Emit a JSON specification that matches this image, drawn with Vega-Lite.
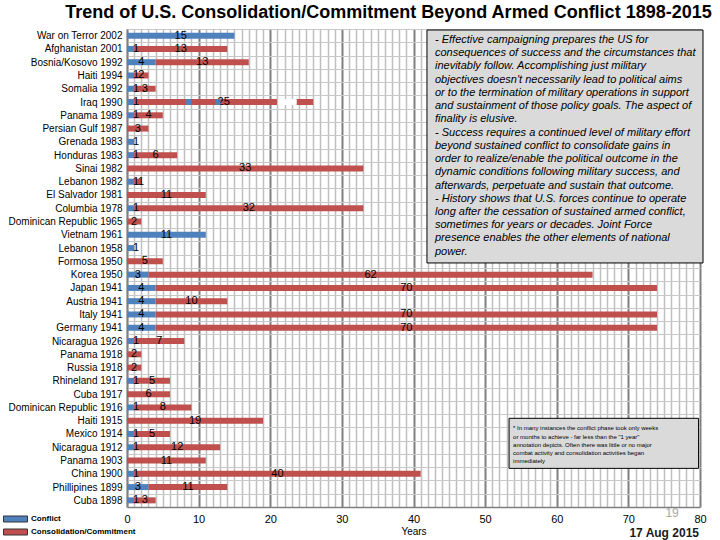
{
  "$schema": "https://vega.github.io/schema/vega-lite/v6.json",
  "autosize": {"type": "none"},
  "padding": {"left": 127, "top": 29, "right": 20, "bottom": 33},
  "width": 573,
  "height": 478,
  "background": "white",
  "config": {"view": {"stroke": null}, "font": "Liberation Sans"},
  "title": {
    "text": "Trend of U.S. Consolidation/Commitment Beyond Armed Conflict 1898-2015",
    "font": "Liberation Sans",
    "fontSize": 18,
    "fontWeight": "bold",
    "color": "#000000",
    "anchor": "middle",
    "frame": "group",
    "dx": -25,
    "offset": 2
  },
  "datasets": {
    "durations": [
      {"event": "War on Terror 2002", "kind": "Conflict", "years": 15},
      {"event": "Afghanistan 2001", "kind": "Conflict", "years": 1},
      {"event": "Afghanistan 2001", "kind": "Consolidation/Commitment", "years": 13},
      {"event": "Bosnia/Kosovo 1992", "kind": "Conflict", "years": 4},
      {"event": "Bosnia/Kosovo 1992", "kind": "Consolidation/Commitment", "years": 13},
      {"event": "Haiti 1994", "kind": "Conflict", "years": 1},
      {"event": "Haiti 1994", "kind": "Consolidation/Commitment", "years": 2},
      {"event": "Somalia 1992", "kind": "Conflict", "years": 1},
      {"event": "Somalia 1992", "kind": "Consolidation/Commitment", "years": 3},
      {"event": "Iraq 1990", "kind": "Conflict", "years": 1},
      {"event": "Iraq 1990", "kind": "Consolidation/Commitment", "years": 25},
      {"event": "Panama 1989", "kind": "Conflict", "years": 1},
      {"event": "Panama 1989", "kind": "Consolidation/Commitment", "years": 4},
      {"event": "Persian Gulf 1987", "kind": "Consolidation/Commitment", "years": 3},
      {"event": "Grenada 1983", "kind": "Conflict", "years": 1},
      {"event": "Honduras 1983", "kind": "Conflict", "years": 1},
      {"event": "Honduras 1983", "kind": "Consolidation/Commitment", "years": 6},
      {"event": "Sinai 1982", "kind": "Consolidation/Commitment", "years": 33},
      {"event": "Lebanon 1982", "kind": "Conflict", "years": 1},
      {"event": "Lebanon 1982", "kind": "Consolidation/Commitment", "years": 1},
      {"event": "El Salvador 1981", "kind": "Consolidation/Commitment", "years": 11},
      {"event": "Columbia 1978", "kind": "Conflict", "years": 1},
      {"event": "Columbia 1978", "kind": "Consolidation/Commitment", "years": 32},
      {"event": "Dominican Republic 1965", "kind": "Consolidation/Commitment", "years": 2},
      {"event": "Vietnam 1961", "kind": "Conflict", "years": 11},
      {"event": "Lebanon 1958", "kind": "Conflict", "years": 1},
      {"event": "Formosa 1950", "kind": "Consolidation/Commitment", "years": 5},
      {"event": "Korea 1950", "kind": "Conflict", "years": 3},
      {"event": "Korea 1950", "kind": "Consolidation/Commitment", "years": 62},
      {"event": "Japan 1941", "kind": "Conflict", "years": 4},
      {"event": "Japan 1941", "kind": "Consolidation/Commitment", "years": 70},
      {"event": "Austria 1941", "kind": "Conflict", "years": 4},
      {"event": "Austria 1941", "kind": "Consolidation/Commitment", "years": 10},
      {"event": "Italy 1941", "kind": "Conflict", "years": 4},
      {"event": "Italy 1941", "kind": "Consolidation/Commitment", "years": 70},
      {"event": "Germany 1941", "kind": "Conflict", "years": 4},
      {"event": "Germany 1941", "kind": "Consolidation/Commitment", "years": 70},
      {"event": "Nicaragua 1926", "kind": "Conflict", "years": 1},
      {"event": "Nicaragua 1926", "kind": "Consolidation/Commitment", "years": 7},
      {"event": "Panama 1918", "kind": "Consolidation/Commitment", "years": 2},
      {"event": "Russia 1918", "kind": "Consolidation/Commitment", "years": 2},
      {"event": "Rhineland 1917", "kind": "Conflict", "years": 1},
      {"event": "Rhineland 1917", "kind": "Consolidation/Commitment", "years": 5},
      {"event": "Cuba 1917", "kind": "Consolidation/Commitment", "years": 6},
      {"event": "Dominican Republic 1916", "kind": "Conflict", "years": 1},
      {"event": "Dominican Republic 1916", "kind": "Consolidation/Commitment", "years": 8},
      {"event": "Haiti 1915", "kind": "Consolidation/Commitment", "years": 19},
      {"event": "Mexico 1914", "kind": "Conflict", "years": 1},
      {"event": "Mexico 1914", "kind": "Consolidation/Commitment", "years": 5},
      {"event": "Nicaragua 1912", "kind": "Conflict", "years": 1},
      {"event": "Nicaragua 1912", "kind": "Consolidation/Commitment", "years": 12},
      {"event": "Panama 1903", "kind": "Consolidation/Commitment", "years": 11},
      {"event": "China 1900", "kind": "Conflict", "years": 1},
      {"event": "China 1900", "kind": "Consolidation/Commitment", "years": 40},
      {"event": "Phillipines 1899", "kind": "Conflict", "years": 3},
      {"event": "Phillipines 1899", "kind": "Consolidation/Commitment", "years": 11},
      {"event": "Cuba 1898", "kind": "Conflict", "years": 1},
      {"event": "Cuba 1898", "kind": "Consolidation/Commitment", "years": 3}
    ],
    "iraq_phases": [
      {"event": "Iraq 1990", "kind": "Conflict", "start": 8.25, "end": 9},
      {"event": "Iraq 1990", "kind": "Conflict", "start": 12.4, "end": 13.05},
      {"event": "Iraq 1990", "kind": "Gap", "start": 21, "end": 23.7}
    ]
  },
  "layer": [
    {
      "encoding": {
        "y": {
          "field": "event",
          "type": "nominal",
          "title": null,
          "sort": [
            "War on Terror 2002", "Afghanistan 2001", "Bosnia/Kosovo 1992", "Haiti 1994",
            "Somalia 1992", "Iraq 1990", "Panama 1989", "Persian Gulf 1987", "Grenada 1983",
            "Honduras 1983", "Sinai 1982", "Lebanon 1982", "El Salvador 1981", "Columbia 1978",
            "Dominican Republic 1965", "Vietnam 1961", "Lebanon 1958", "Formosa 1950",
            "Korea 1950", "Japan 1941", "Austria 1941", "Italy 1941", "Germany 1941",
            "Nicaragua 1926", "Panama 1918", "Russia 1918", "Rhineland 1917", "Cuba 1917",
            "Dominican Republic 1916", "Haiti 1915", "Mexico 1914", "Nicaragua 1912",
            "Panama 1903", "China 1900", "Phillipines 1899", "Cuba 1898"
          ],
          "scale": {"paddingInner": 0, "paddingOuter": 0},
          "axis": {
            "ticks": false,
            "grid": true,
            "tickBand": "extent",
            "gridColor": "#C8C8C8",
            "gridWidth": 1,
            "domainColor": "#808080",
            "domainWidth": 1.5,
            "labelFont": "Liberation Sans",
            "labelFontSize": 10,
            "labelColor": "#000000",
            "labelPadding": 5
          }
        }
      },
      "layer": [
        {
          "data": {"name": "durations"},
          "transform": [
            {"stack": "years", "groupby": ["event"], "sort": [{"field": "kind", "order": "ascending"}], "as": ["x0", "x1"]}
          ],
          "mark": {"type": "bar", "size": 6},
          "encoding": {
            "x": {
              "field": "x0",
              "type": "quantitative",
              "title": "Years",
              "scale": {"domain": [0, 80], "nice": false},
              "axis": {
                "tickCount": 80,
                "ticks": false,
                "grid": true,
                "gridColor": {"condition": {"test": "datum.value % 10 === 0", "value": "#808080"}, "value": "#BFBFBF"},
                "gridWidth": {"condition": {"test": "datum.value % 10 === 0", "value": 2}, "value": 1.5},
                "labelExpr": "datum.value % 10 === 0 ? datum.label : ''",
                "labelOverlap": false,
                "labelFlush": false,
                "labelFont": "Liberation Sans",
                "labelFontSize": 11,
                "labelColor": "#000000",
                "labelPadding": 6,
                "domainColor": "#808080",
                "domainWidth": 1.5,
                "titleFont": "Liberation Sans",
                "titleFontSize": 10,
                "titleFontWeight": "normal",
                "titleColor": "#000000",
                "titlePadding": 2
              }
            },
            "x2": {"field": "x1"},
            "color": {
              "field": "kind",
              "type": "nominal",
              "scale": {
                "domain": ["Conflict", "Consolidation/Commitment", "Gap"],
                "range": ["#4F81BD", "#C0504D", "#FFFFFF"]
              },
              "legend": {
                "values": ["Conflict", "Consolidation/Commitment"],
                "title": null,
                "orient": "none",
                "legendX": -124,
                "legendY": 484,
                "padding": 0,
                "symbolType": "M-1,-0.25H1V0.25H-1Z",
                "symbolSize": 576,
                "symbolStrokeColor": "#333333",
                "symbolStrokeWidth": 1,
                "clipHeight": 12,
                "rowPadding": 1,
                "labelFont": "Liberation Sans",
                "labelFontSize": 8,
                "labelFontWeight": "bold",
                "labelColor": "#000000",
                "labelOffset": 3
              }
            }
          }
        },
        {
          "data": {"name": "durations"},
          "transform": [
            {"stack": "years", "groupby": ["event"], "sort": [{"field": "kind", "order": "ascending"}], "as": ["x0", "x1"]},
            {"calculate": "datum.kind == 'Conflict' ? max((datum.x0 + datum.x1) / 2, 1.25) : max((datum.x0 + datum.x1) / 2, datum.x0 + 0.95)", "as": "lx"}
          ],
          "mark": {"type": "text", "font": "Liberation Sans", "fontSize": 11, "color": "#000000", "align": "center", "baseline": "middle"},
          "encoding": {
            "x": {"field": "lx", "type": "quantitative", "title": "Years", "scale": {"domain": [0, 80], "nice": false}},
            "text": {"field": "years", "type": "quantitative", "format": "d"}
          }
        },
        {
          "data": {"name": "iraq_phases"},
          "mark": {"type": "bar", "size": 6},
          "encoding": {
            "x": {"field": "start", "type": "quantitative", "title": "Years", "scale": {"domain": [0, 80], "nice": false}},
            "x2": {"field": "end"},
            "color": {"field": "kind", "type": "nominal"}
          }
        }
      ]
    },
    {
      "data": {"values": [{}]},
      "layer": [
        {
          "mark": {"type": "rect", "fill": "#DADADA", "stroke": "#000000", "strokeWidth": 1},
          "encoding": {
            "x": {"datum": 41.88, "type": "quantitative", "scale": {"domain": [0, 80], "nice": false}},
            "x2": {"datum": 80.42},
            "y": {"datum": 0.075, "type": "quantitative", "scale": {"domain": [0, 36], "reverse": true, "nice": false, "zero": false}, "axis": null},
            "y2": {"datum": 17.62}
          }
        },
        {
          "mark": {
            "type": "text",
            "font": "Liberation Sans",
            "fontSize": 11,
            "fontStyle": "italic",
            "color": "#000000",
            "align": "left",
            "baseline": "middle",
            "lineHeight": 13.23,
            "text": [
              "-  Effective campaigning prepares the US for",
              "consequences of success and the circumstances that",
              "inevitably follow. Accomplishing just military",
              "objectives doesn't necessarily  lead to political aims",
              "or to the termination of military operations in support",
              "and sustainment of those policy goals. The aspect of",
              "finality is elusive.",
              "-  Success requires a continued level of military effort",
              "beyond sustained conflict  to consolidate gains in",
              "order to realize/enable the political outcome in the",
              "dynamic conditions following military success, and",
              "afterwards, perpetuate and sustain that outcome.",
              "-  History shows that U.S. forces continue to operate",
              "long after the cessation of sustained armed conflict,",
              "sometimes for years or decades.  Joint Force",
              "presence enables the other elements of national",
              "power."
            ]
          },
          "encoding": {
            "x": {"datum": 43.0, "type": "quantitative", "scale": {"domain": [0, 80], "nice": false}},
            "y": {"datum": 0.83, "type": "quantitative", "scale": {"domain": [0, 36], "reverse": true, "nice": false, "zero": false}, "axis": null}
          }
        },
        {
          "mark": {"type": "rect", "fill": "#DADADA", "stroke": "#000000", "strokeWidth": 1},
          "encoding": {
            "x": {"datum": 53.34, "type": "quantitative", "scale": {"domain": [0, 80], "nice": false}},
            "x2": {"datum": 79.8},
            "y": {"datum": 29.32, "type": "quantitative", "scale": {"domain": [0, 36], "reverse": true, "nice": false, "zero": false}, "axis": null},
            "y2": {"datum": 33.09}
          }
        },
        {
          "mark": {
            "type": "text",
            "font": "Liberation Sans",
            "fontSize": 6,
            "color": "#000000",
            "align": "left",
            "baseline": "middle",
            "lineHeight": 8.3,
            "text": [
              "* In many instances the conflict phase took only weeks",
              "or months to achieve - far less than the \"1 year\"",
              "annotation depicts.   Often there was little or no major",
              "combat activity and consolidation activities began",
              "immediately"
            ]
          },
          "encoding": {
            "x": {"datum": 53.9, "type": "quantitative", "scale": {"domain": [0, 80], "nice": false}},
            "y": {"datum": 30.07, "type": "quantitative", "scale": {"domain": [0, 36], "reverse": true, "nice": false, "zero": false}, "axis": null}
          }
        },
        {
          "mark": {"type": "text", "font": "Liberation Sans", "fontSize": 12, "color": "#A6A6A6", "align": "center", "baseline": "middle", "text": "19"},
          "encoding": {
            "x": {"datum": 76.1, "type": "quantitative", "scale": {"domain": [0, 80], "nice": false}},
            "y": {"datum": 36.45, "type": "quantitative", "scale": {"domain": [0, 36], "reverse": true, "nice": false, "zero": false}, "axis": null}
          }
        },
        {
          "mark": {"type": "text", "font": "Liberation Sans", "fontSize": 12, "fontWeight": "bold", "color": "#1A1A1A", "align": "center", "baseline": "middle", "text": "17 Aug 2015"},
          "encoding": {
            "x": {"datum": 75.0, "type": "quantitative", "scale": {"domain": [0, 80], "nice": false}},
            "y": {"datum": 37.96, "type": "quantitative", "scale": {"domain": [0, 36], "reverse": true, "nice": false, "zero": false}, "axis": null}
          }
        }
      ]
    }
  ],
  "resolve": {"scale": {"y": "independent"}}
}
